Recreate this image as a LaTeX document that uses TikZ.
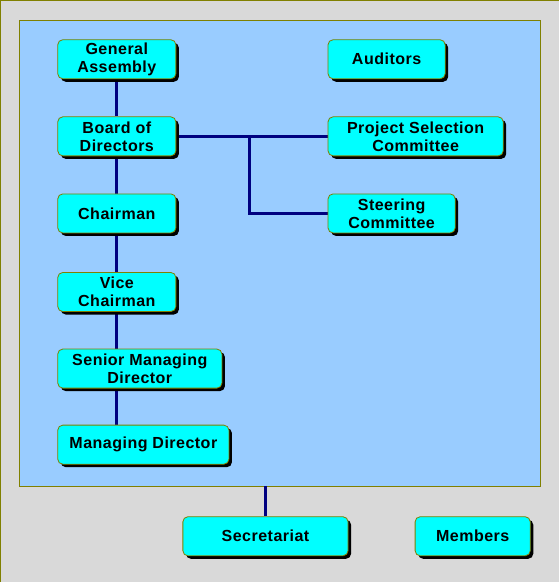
\documentclass[tikz,border=0pt]{standalone}
\usepackage{fontspec}
\setmainfont{Liberation Sans}[LetterSpace=3]
\usetikzlibrary{shadows}
\definecolor{panelblue}{HTML}{99CCFF}
\definecolor{framegrey}{HTML}{D9D9D9}
\definecolor{edgeolive}{HTML}{808000}
\definecolor{linknavy}{HTML}{000080}
\definecolor{boxcyan}{HTML}{00FFFF}
\pgfdeclarelayer{backdrop}
\pgfdeclarelayer{wires}
\pgfsetlayers{backdrop,wires,main}

\begin{document}
\begin{tikzpicture}[x=1pt,y=-1pt]
        \tikzstyle{orgbox}=[draw=edgeolive, line width=0.8pt, fill=boxcyan, rounded corners=5pt,
          minimum height=39pt, inner sep=0pt, align=center,
          font=\fontsize{16}{18}\selectfont\bfseries,
          drop shadow={shadow xshift=3pt, shadow yshift=-3pt, fill=black, opacity=1}]
        \tikzstyle{link}=[draw=linknavy, line width=3pt]
        % left column
        \node (assembly) [orgbox, minimum width=118pt] at (117,59.5) {General\\Assembly};
        \node (board) [orgbox, minimum width=118pt] at (117,136.5) {Board of\\Directors};
        \node (chair) [orgbox, minimum width=118pt] at (117,213.5) {Chairman};
        \node (vice) [orgbox, minimum width=118pt] at (117,292) {Vice\\Chairman};
        \node (senior) [orgbox, minimum width=164pt] at (140,368.5) {Senior Managing\\Director};
        \node (managing) [orgbox, minimum width=171pt] at (143.5,444.5) {Managing Director};
        % right column
        \node (auditors) [orgbox, minimum width=117pt] at (386.5,59.5) {Auditors};
        \node (project) [orgbox, minimum width=175pt] at (415.5,136.5) {Project Selection\\Committee};
        \node (steering) [orgbox, minimum width=127pt] at (391.5,213.5) {Steering\\Committee};
        % bottom row
        \node (secr) [orgbox, minimum width=165pt] at (265.5,536) {Secretariat};
        \node (members) [orgbox, minimum width=115pt] at (472.5,536) {Members};
        \begin{pgfonlayer}{backdrop}
        \draw [edgeolive, fill=framegrey] (0.5,0.5) rectangle (558.5,581.5);
        \node (panel) [draw=edgeolive, fill=panelblue, minimum width=521pt, minimum height=466pt, inner sep=0pt] at (279.5,253) {};
        \end{pgfonlayer}
        % links
        \begin{pgfonlayer}{wires}
        \coordinate (branch) at (250,136.5);
        \draw [link] (assembly.south) -- (board.north);
        \draw [link] (board.south) -- (chair.north);
        \draw [link] (chair.south) -- (vice.north);
        \draw [link] (vice.south) -- (senior.north -| vice.south);
        \draw [link] (senior.south -| vice.south) -- (managing.north -| vice.south);
        \draw [link] (board.east) -- (project.west);
        \draw [link] (branch) |- (steering.west);
        \draw [link] (secr.north) -- (secr.north |- panel.south);
        \end{pgfonlayer}
\end{tikzpicture}
\end{document}
